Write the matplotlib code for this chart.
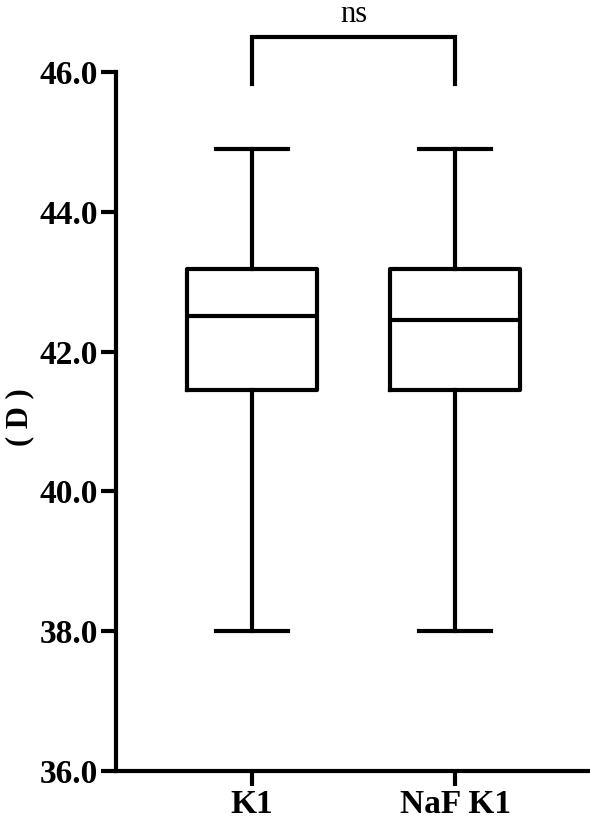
import matplotlib
matplotlib.use("Agg")
import matplotlib.pyplot as plt

plt.rcParams['font.family'] = ['Liberation Serif', 'DejaVu Serif']

categories = ["K1", "NaF K1"]
whislo = [38.0, 38.0]
q1 = [41.45, 41.45]
med = [42.51, 42.45]
q3 = [43.18, 43.18]
whishi = [44.9, 44.9]
yticks = [36.0, 38.0, 40.0, 42.0, 44.0, 46.0]
sig_label = "ns"
ylabel = "( D )"

fig = plt.figure(figsize=(5.9, 8.21), dpi=100)
ax = fig.add_axes([0.1966, 0.0609, 0.8034, 0.8514])

stats = []
for i, c in enumerate(categories):
    stats.append(dict(label=c, whislo=whislo[i], q1=q1[i], med=med[i],
                      q3=q3[i], whishi=whishi[i], fliers=[]))

lw = 3.0
ax.bxp(stats, positions=list(range(len(categories))), widths=0.645,
       showfliers=False, capwidths=0.35,
       boxprops=dict(color='black', linewidth=lw),
       medianprops=dict(color='black', linewidth=lw),
       whiskerprops=dict(color='black', linewidth=lw),
       capprops=dict(color='black', linewidth=lw))

ax.set_xlim(-0.67, 1.665)
ax.set_ylim(36, 46)
ax.set_yticks(yticks)
ax.set_yticklabels([f"{v:.1f}" for v in yticks], fontsize=24, fontweight='bold')
ax.set_xticks(range(len(categories)))
ax.set_xticklabels(categories, fontsize=24, fontweight='bold')
ax.tick_params(axis='both', length=11, width=lw, pad=2)

fig.text(20 / 590, 1 - 417 / 821, ylabel, rotation=90, ha='center',
         va='center', fontsize=22, fontweight='bold')

for s in ['top', 'right']:
    ax.spines[s].set_visible(False)
for s in ['left', 'bottom']:
    ax.spines[s].set_linewidth(lw)

# significance bracket
yb0, yb1 = 45.83, 46.5
ax.plot([0, 0, 1, 1], [yb0, yb1, yb1, yb0], color='black', linewidth=lw,
        clip_on=False, solid_joinstyle='miter')
ax.text(0.5, 46.62, sig_label, ha='center', va='bottom', fontsize=22,
        clip_on=False)

fig.savefig("out.png", dpi=100)
